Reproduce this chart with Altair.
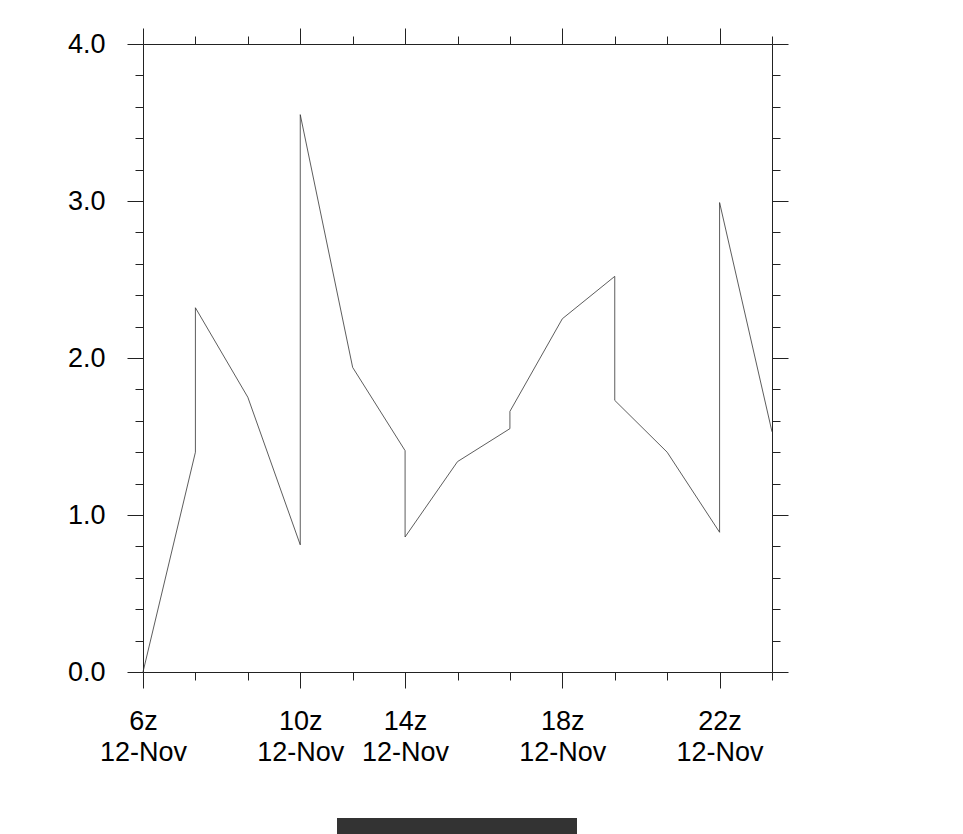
import altair as alt
import pandas as pd

# Data: series sampled on 13 equally spaced slots; repeated slots make vertical jumps
slot = [0, 1, 1, 2, 3, 3, 4, 5, 5, 6, 7, 7, 8, 9, 9, 10, 11, 11, 12]
value = [0.0, 1.40, 2.32, 1.75, 0.81, 3.55, 1.94, 1.41, 0.86, 1.34, 1.55, 1.66,
         2.25, 2.52, 1.73, 1.40, 0.89, 2.99, 1.53]

# Tick labels
label_slots = [0, 3, 5, 8, 11]
label_hours = ["6z", "10z", "14z", "18z", "22z"]
label_dates = ["12-Nov", "12-Nov", "12-Nov", "12-Nov", "12-Nov"]
x_ticks = list(range(13))
y_ticks = [0, 0.2, 0.4, 0.6, 0.8, 1, 1.2, 1.4, 1.6, 1.8, 2, 2.2, 2.4, 2.6, 2.8,
           3, 3.2, 3.4, 3.6, 3.8, 4]

df = pd.DataFrame({"slot": slot, "value": value, "seq": list(range(len(slot)))})

FONT = "Liberation Sans"
FS = 27
AX = "#222222"

x_label_expr = " : ".join(
    f"datum.value == {s} ? ['{h}', '{d}']" for s, h, d in zip(label_slots, label_hours, label_dates)
) + " : ''"
x_major_test = "indexof(" + str(label_slots) + ", datum.value) >= 0"
y_major_test = "abs(datum.value - round(datum.value)) < 0.001"
y_label_expr = f"{y_major_test} ? format(datum.value, '.1f') : ''"


def x_axis(orient, labels):
    kw = dict(
        orient=orient, values=x_ticks, title=None, grid=False,
        domainColor=AX, domainWidth=1, tickColor=AX, tickWidth=1,
        tickSize={"condition": {"test": x_major_test, "value": 16}, "value": 8},
        labelOverlap=False,
    )
    if labels:
        kw.update(labelExpr=x_label_expr, labelFont=FONT, labelFontSize=FS,
                  labelColor="black", labelPadding=20, labelLineHeight=31,
                  labelAlign="center", labelBaseline="top")
    else:
        kw.update(labels=False)
    return alt.Axis(**kw)


def y_axis(orient, labels):
    kw = dict(
        orient=orient, values=y_ticks, title=None, grid=False,
        domainColor=AX, domainWidth=1, tickColor=AX, tickWidth=1,
        tickSize={"condition": {"test": y_major_test, "value": 16}, "value": 8},
        labelOverlap=False,
    )
    if labels:
        kw.update(labelExpr=y_label_expr, labelFont=FONT, labelFontSize=FS,
                  labelColor="black", labelPadding=22)
    else:
        kw.update(labels=False)
    return alt.Axis(**kw)


xs = alt.Scale(domain=[0, 12], nice=False, zero=False)
ys = alt.Scale(domain=[0, 4], nice=False)

line = alt.Chart(df).mark_line(color="#333333", strokeWidth=0.8).encode(
    x=alt.X("slot:Q", scale=xs, axis=x_axis("bottom", True)),
    y=alt.Y("value:Q", scale=ys, axis=y_axis("left", True)),
    order=alt.Order("seq:Q"),
)

frame = alt.Chart(df).mark_line(opacity=0).encode(
    x=alt.X("slot:Q", scale=xs, axis=x_axis("top", False)),
    y=alt.Y("value:Q", scale=ys, axis=y_axis("right", False)),
    order=alt.Order("seq:Q"),
)

bar = alt.Chart(alt.Data(values=[{}])).mark_rect(color="#333333").encode(
    x=alt.value(194), x2=alt.value(434), y=alt.value(774), y2=alt.value(800)
)

chart = alt.layer(line, frame, bar).resolve_axis(
    x="independent", y="independent"
).properties(
    width=629, height=628,
    autosize=alt.AutoSizeParams(type="none"),
    padding={"left": 135, "top": 36, "right": 180, "bottom": 180},
).configure_view(strokeWidth=0)

chart.save("out.html", embed_options={"renderer": "svg", "actions": False})
